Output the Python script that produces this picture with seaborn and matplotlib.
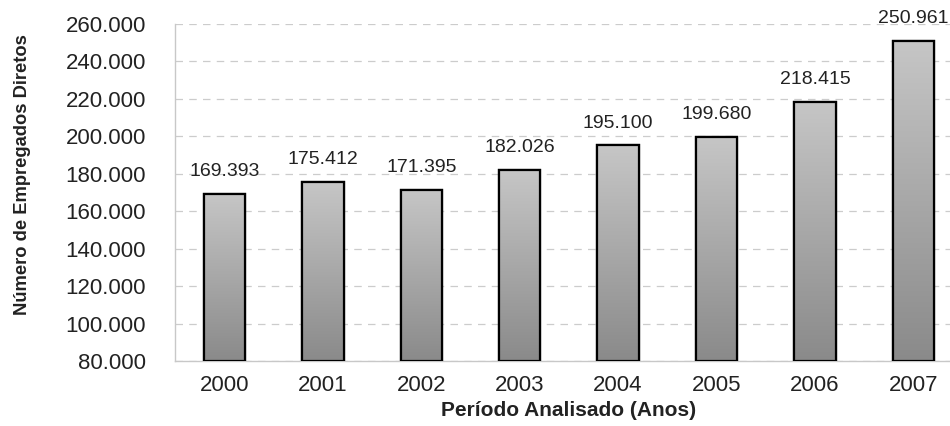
import numpy as np
import pandas as pd
import seaborn as sns
import matplotlib.pyplot as plt
from matplotlib.ticker import FixedLocator, FuncFormatter

anos = ['2000', '2001', '2002', '2003', '2004', '2005', '2006', '2007']
empregados = [169393, 175412, 171395, 182026, 195100, 199680, 218415, 250961]

sns.set_style('white')
plt.rcParams['font.family'] = ['Liberation Sans', 'DejaVu Sans']

df = pd.DataFrame({'ano': anos, 'empregados': empregados})

fig = plt.figure(figsize=(9.5, 4.26), dpi=100)
ax = fig.add_axes([0.1845, 0.1526, 0.8287, 0.7911])

sns.barplot(data=df, x='ano', y='empregados', color='#a8a8a8', width=0.42,
            edgecolor='black', linewidth=1.6, ax=ax, zorder=3)

# degradê dentro de cada barra (claro em cima, escuro embaixo)
grad = np.linspace(0, 1, 256).reshape(-1, 1)
cmap = sns.blend_palette(['#8a8a8a', '#c6c6c6'], as_cmap=True)
for p in ax.patches:
    x0, y0 = p.get_x(), p.get_y()
    w, h = p.get_width(), p.get_height()
    im = ax.imshow(grad, cmap=cmap, aspect='auto', origin='lower',
                   extent=[x0, x0 + w, 80000, y0 + h], zorder=3.5)
    im.set_clip_path(p)
    ax.add_patch(plt.Rectangle((x0, 80000), w, y0 + h - 80000, fill=False,
                               edgecolor='black', linewidth=1.6, zorder=4))

for i, v in enumerate(empregados):
    ax.annotate(f'{v:,}'.replace(',', '.'), (i, v), xytext=(0, 10),
                textcoords='offset points', ha='center', va='bottom',
                fontsize=14, color='#222222')

ax.set_xlim(-0.5, 7.5)
ax.set_ylim(80000, 260000)
ax.set_yticks(np.arange(80000, 260001, 20000))
ax.yaxis.set_major_formatter(FuncFormatter(lambda v, _: f'{int(v):,}'.replace(',', '.')))
ax.yaxis.grid(True, linestyle=(0, (6, 5)), color='#cccccc', linewidth=0.9, zorder=0)
ax.set_axisbelow(True)

ax.xaxis.set_minor_locator(FixedLocator(np.arange(-0.5, 8, 1)))
ax.tick_params(axis='x', which='major', length=0, pad=10, labelsize=16, labelcolor='#222222')
ax.tick_params(axis='x', which='minor', length=6, color='#c8c8c8', width=1)
ax.tick_params(axis='y', which='major', length=7, color='#c8c8c8', width=1, pad=14,
               labelsize=16, labelcolor='#222222')

for s in ['top', 'right']:
    ax.spines[s].set_visible(False)
for s in ['left', 'bottom']:
    ax.spines[s].set_color('#c8c8c8')
    ax.spines[s].set_linewidth(1)

ax.set_xlabel('Período Analisado (Anos)', fontsize=15, fontweight='bold',
              color='#222222', labelpad=4)
ax.set_ylabel('Número de Empregados Diretos', fontsize=13.2, fontweight='bold',
              color='#222222')
ax.yaxis.set_label_coords(31 / 950, 0.59, transform=fig.transFigure)

fig.savefig('out.png', dpi=100)
